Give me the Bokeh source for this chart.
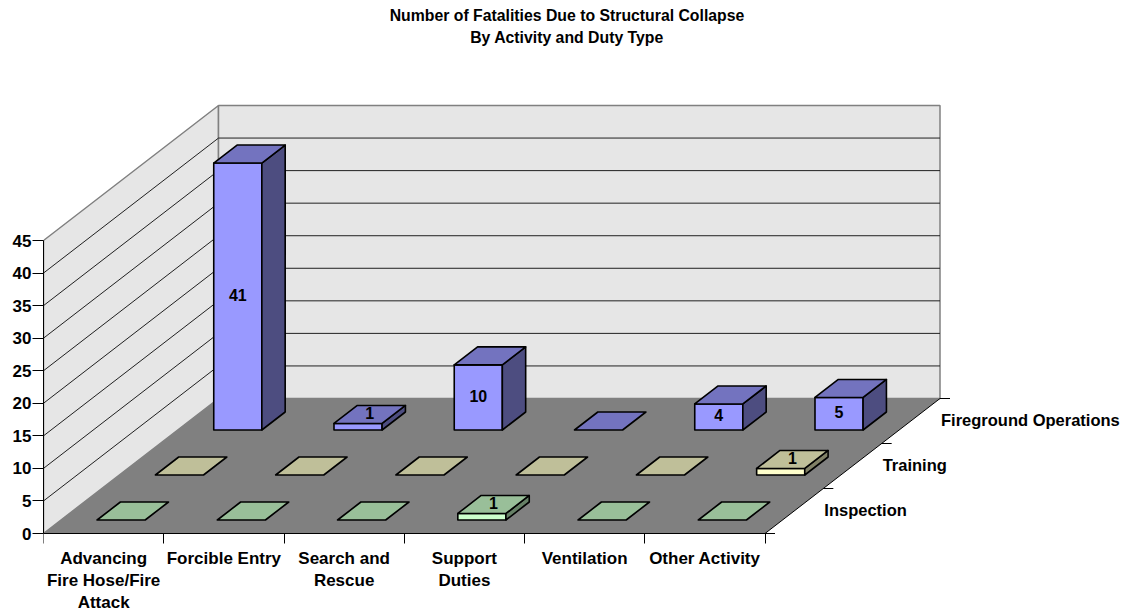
from bokeh.plotting import figure
from bokeh.models import FixedTicker, Range1d
from bokeh.core.properties import value
from bokeh.embed import file_html
from bokeh.resources import INLINE

title_lines = ["Number of Fatalities Due to Structural Collapse", "By Activity and Duty Type"]
categories = ["Advancing\nFire Hose/Fire\nAttack", "Forcible Entry", "Search and\nRescue",
              "Support\nDuties", "Ventilation", "Other Activity"]
series_names = ["Inspection", "Training", "Fireground Operations"]
inspection = [0, 0, 0, 1, 0, 0]
training = [0, 0, 0, 0, 0, 1]
fireground = [41, 1, 10, 0, 4, 5]
value_ticks = [0, 5, 10, 15, 20, 25, 30, 35, 40, 45]
front_colors = ["#CCFFCC", "#FFFFCC", "#9999FF"]
top_colors = ["#99BF99", "#BFBF99", "#7373BF"]
side_colors = ["#668066", "#808066", "#4D4D80"]

FONT = "Liberation Sans"
W, H = 1131, 613
LEFT, FLOOR_Y = 43, 533
PX_CAT, PX_VAL = 120.25, 293 / 45
DX, DY = 175 / PX_CAT, 135 / PX_VAL     # full depth of the floor, in data units

p = figure(width=W, height=H, output_backend="svg", toolbar_location=None,
           x_range=Range1d(0, (W - LEFT) / PX_CAT),
           y_range=Range1d(-(H - FLOOR_Y) / PX_VAL, FLOOR_Y / PX_VAL),
           min_border_left=LEFT, min_border_right=0, min_border_top=0, min_border_bottom=0)
p.outline_line_color = None
p.grid.visible = False
p.background_fill_color = "white"

# axes
ya = p.yaxis[0]
ya.ticker = FixedTicker(ticks=value_ticks)
ya.bounds = (0, 45)
ya.major_tick_out, ya.major_tick_in, ya.minor_tick_out, ya.minor_tick_in = 11, 0, 0, 0
ya.major_label_standoff = 1
ya.major_label_text_font = FONT
ya.major_label_text_font_style = "bold"
ya.major_label_text_font_size = "17px"
ya.major_label_text_color = "black"
ya.axis_line_color = "black"
ya.major_tick_line_color = "black"

xa = p.xaxis[0]
n = len(categories)
xa.fixed_location = 0     # the axis sits on the value 0, with its labels below the floor
xa.ticker = FixedTicker(ticks=[i + 0.5 for i in range(n)], minor_ticks=list(range(n + 1)))
xa.major_label_overrides = {i + 0.5: c for i, c in enumerate(categories)}
xa.bounds = (0, n)
xa.major_tick_out, xa.major_tick_in, xa.minor_tick_out, xa.minor_tick_in = 0, 0, 10, 0
xa.major_label_standoff = 5
xa.major_label_text_font = FONT
xa.major_label_text_font_style = "bold"
xa.major_label_text_font_size = "17px"
xa.major_label_text_color = "black"
xa.major_label_text_line_height = 1.18
xa.axis_line_color = "black"
xa.minor_tick_line_color = "black"


def pt(c, d, v=0.0):
    """Category position c, depth fraction d, value v -> data coordinates of the oblique view."""
    return c + d * DX, v + d * DY


def quad(*pts):
    return [q[0] for q in pts], [q[1] for q in pts]


# title (two centred lines, above the back wall)
title_cx = (566.5 - LEFT) / PX_CAT
for line, py in zip(title_lines, (15, 37)):
    p.text([title_cx], [(FLOOR_Y - py) / PX_VAL], text=[line], text_font=value(FONT),
           text_font_style="bold", text_font_size="15.8px", text_align="center",
           text_baseline="middle", text_color="black")

# walls
wx, wy = quad(pt(0, 0), pt(0, 0, 45), pt(0, 1, 45), pt(0, 1))
p.patch(wx, wy, fill_color="#E6E6E6", line_color="#808080", line_width=1.5)
wx, wy = quad(pt(0, 1), pt(0, 1, 45), pt(n, 1, 45), pt(n, 1))
p.patch(wx, wy, fill_color="#E6E6E6", line_color="#808080", line_width=1.5)

# gridlines on the walls
for v in value_ticks[1:-1]:
    gx, gy = quad(pt(0, 0, v), pt(0, 1, v), pt(n, 1, v))
    p.line(gx, gy, line_color="#202020", line_width=1)

# floor
fx, fy = quad(pt(0, 0), pt(n, 0), pt(n, 1), pt(0, 1))
p.patch(fx, fy, fill_color="#808080", line_color=None)
ex, ey = quad(pt(n, 0), pt(n, 1))
p.line(ex, ey, line_color="black", line_width=1)

# depth axis ticks and labels
S = len(series_names)
tick_len = 10 / PX_CAT
sx0, sy0, sx1, sy1 = [], [], [], []
for k in range(S + 1):
    x, y = pt(n, k / S)
    sx0.append(x); sy0.append(y); sx1.append(x + tick_len); sy1.append(y)
p.segment(sx0, sy0, sx1, sy1, line_color="black", line_width=1)

lx, ly = [], []
for k in range(S):
    x, _ = pt(n, (k + 1) / S)
    _, y = pt(n, (k + 0.5) / S)
    lx.append(x + 1 / PX_CAT); ly.append(y)
p.text(lx, ly, text=series_names, text_font=value(FONT), text_font_style="bold",
       text_font_size="16.5px", text_align="left", text_baseline="middle", text_color="black",
       y_offset=-1)

# bars, back to front
BAR = 0.4
vals = [inspection, training, fireground]
for k in reversed(range(S)):
    d0, d1 = (k + 0.5 - BAR / 2) / S, (k + 0.5 + BAR / 2) / S
    for i, v in enumerate(vals[k]):
        c0, c1 = i + 0.5 - BAR / 2, i + 0.5 + BAR / 2
        outline = dict(line_color="black", line_width=1.6, line_join="round")
        if v > 0:
            qx, qy = quad(pt(c0, d0), pt(c1, d0), pt(c1, d0, v), pt(c0, d0, v))
            p.patch(qx, qy, fill_color=front_colors[k], **outline)
            qx, qy = quad(pt(c1, d0), pt(c1, d1), pt(c1, d1, v), pt(c1, d0, v))
            p.patch(qx, qy, fill_color=side_colors[k], **outline)
        qx, qy = quad(pt(c0, d0, v), pt(c1, d0, v), pt(c1, d1, v), pt(c0, d1, v))
        p.patch(qx, qy, fill_color=top_colors[k], **outline)
        if v > 0:
            if v <= 1:   # too short for its front face: the label sits on the top
                tx, ty = pt(i + 0.5, (d0 + d1) / 2, v)
            else:
                tx, ty = pt(i + 0.5, d0, v / 2)
            p.text([tx], [ty], text=[str(v)], text_font=value(FONT), text_font_style="bold",
                   text_font_size="16px", text_align="center", text_baseline="middle",
                   text_color="black", y_offset=-1.5)

open("out.html", "w").write(file_html(p, INLINE))
